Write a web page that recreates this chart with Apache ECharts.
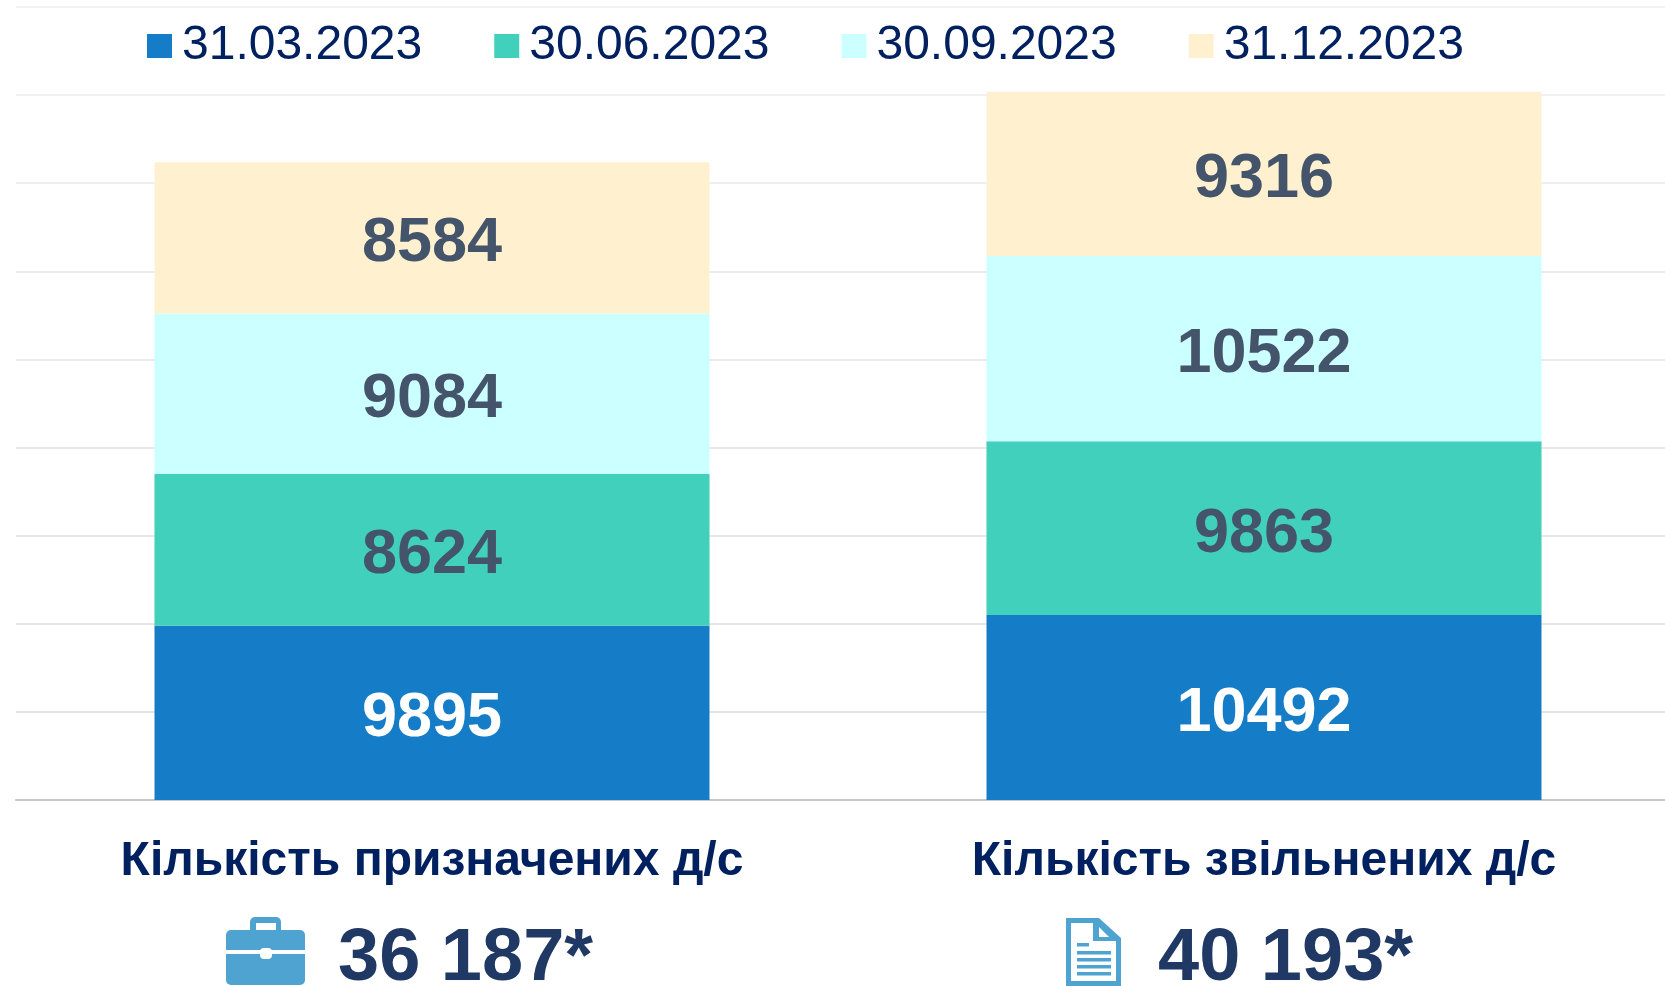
<!DOCTYPE html>
<html>
<head>
<meta charset="utf-8">
<title>Кількість д/с</title>
<script src="https://cdn.jsdelivr.net/npm/echarts@6/dist/echarts.min.js"></script>
<style>
html, body { margin: 0; padding: 0; background: #fff; width: 1665px; height: 986px; overflow: hidden; }
/* the second band runs past the right edge of the picture, so the chart is a bit wider than the window */
#main { width: 1700px; height: 986px; }
</style>
</head>
<body>
<div id="main"></div>
<script>
var categories = ['Кількість призначених д/с', 'Кількість звільнених д/с'];
var dates = ['31.03.2023', '30.06.2023', '30.09.2023', '31.12.2023'];
var q1 = [9895, 10492];
var q2 = [8624, 9863];
var q3 = [9084, 10522];
var q4 = [8584, 9316];
var totals = ['36 187*', '40 193*'];
var colors = ['#157cc7', '#41d0bb', '#ccffff', '#fff0cf'];
var labelColors = ['#ffffff', '#44546a', '#44546a', '#44546a'];
var gridColors = ['#c8c8c8', '#e3e3e3', '#e4e4e4', '#e6e6e6', '#e8e8e8', '#eaeaea', '#ececec', '#eeeeee', '#f0f0f0', '#f2f2f2'];
var iconColor = '#4fa3d1';

var seriesData = [];
var values = [q1, q2, q3, q4];
for (var i = 0; i < values.length; i++) {
    seriesData.push({
        name: dates[i],
        type: 'bar',
        stack: 'total',
        barWidth: 555,
        data: values[i],
        itemStyle: {color: colors[i]},
        label: {
            show: true,
            position: 'inside',
            offset: [0, 6],
            color: labelColors[i],
            fontFamily: 'Liberation Sans',
            fontWeight: 'bold',
            fontSize: 63
        }
    });
}

function totalText(x, text) {
    return {
        type: 'text',
        left: x,
        top: 923,
        style: {
            text: text,
            fill: '#203864',
            fontFamily: 'Liberation Sans',
            fontWeight: 'bold',
            fontSize: 74
        }
    };
}

var chart = echarts.init(document.getElementById('main'));
chart.setOption({
    animation: false,
    legend: {
        data: dates,
        left: 142,
        top: 17,
        icon: 'rect',
        itemWidth: 25,
        itemHeight: 24,
        itemGap: 72,
        textStyle: {
            color: '#002060',
            fontFamily: 'Liberation Sans',
            fontSize: 48,
            padding: [0, 0, 0, 5]
        }
    },
    grid: {left: 16, width: 1664, top: 7, height: 793},
    xAxis: {
        type: 'category',
        data: categories,
        axisTick: {show: false},
        axisLine: {lineStyle: {color: '#c8c8c8', width: 2}},
        axisLabel: {
            margin: 38,
            color: '#002060',
            fontFamily: 'Liberation Sans',
            fontWeight: 'bold',
            fontSize: 48
        }
    },
    yAxis: {
        type: 'value',
        min: 0,
        max: 45000,
        interval: 5000,
        axisLabel: {show: false},
        axisLine: {show: false},
        axisTick: {show: false},
        splitLine: {lineStyle: {color: gridColors, width: 2}}
    },
    series: seriesData,
    graphic: [
        totalText(338, totals[0]),
        totalText(1158, totals[1]),
        // briefcase icon
        {type: 'group', x: 226, y: 917, children: [
            {type: 'rect', shape: {x: 24, y: 0, width: 31, height: 20, r: 5}, style: {fill: iconColor}},
            {type: 'rect', z: 2, shape: {x: 30, y: 6, width: 20, height: 7}, style: {fill: '#fff'}},
            {type: 'rect', shape: {x: 0, y: 13, width: 79, height: 55, r: 5}, style: {fill: iconColor}},
            {type: 'rect', z: 2, shape: {x: 0, y: 33, width: 79, height: 4}, style: {fill: '#fff'}},
            {type: 'rect', z: 2, shape: {x: 34, y: 31, width: 12, height: 11, r: 4}, style: {fill: '#fff'}}
        ]},
        // document icon
        {type: 'group', x: 1066, y: 918, children: [
            {type: 'polygon', shape: {points: [[0, 0], [33, 0], [55, 20], [55, 68], [0, 68]]}, style: {fill: iconColor}},
            {type: 'polygon', z: 2, shape: {points: [[5, 5], [27, 5], [27, 23], [50, 23], [50, 63], [5, 63]]}, style: {fill: '#fff'}},
            {type: 'polygon', z: 2, shape: {points: [[33, 9], [33, 19], [43, 19]]}, style: {fill: '#fff'}},
            {type: 'rect', z: 3, shape: {x: 11, y: 25, width: 12, height: 3.5}, style: {fill: iconColor}},
            {type: 'rect', z: 3, shape: {x: 11, y: 33, width: 34, height: 3.5}, style: {fill: iconColor}},
            {type: 'rect', z: 3, shape: {x: 11, y: 40, width: 34, height: 3.5}, style: {fill: iconColor}},
            {type: 'rect', z: 3, shape: {x: 11, y: 47, width: 34, height: 3.5}, style: {fill: iconColor}},
            {type: 'rect', z: 3, shape: {x: 11, y: 54, width: 34, height: 3.5}, style: {fill: iconColor}}
        ]}
    ]
});
</script>
</body>
</html>
